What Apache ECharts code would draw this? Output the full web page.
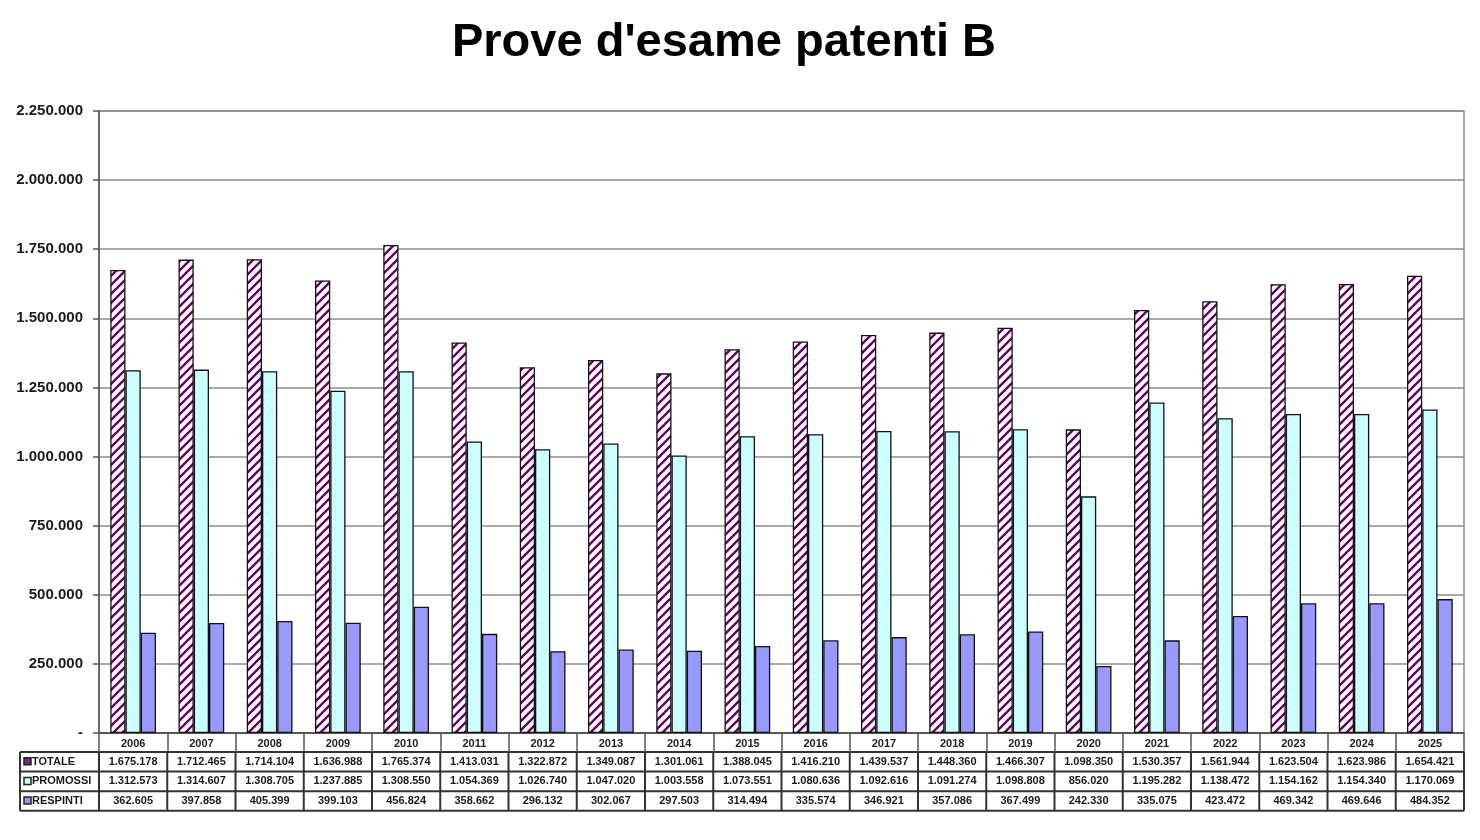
<!DOCTYPE html>
<html><head><meta charset="utf-8">
<script src="https://cdn.jsdelivr.net/npm/echarts@6/dist/echarts.min.js"></script>
<style>html,body{margin:0;padding:0;background:#fff;}#c{width:1480px;height:840px;}</style>
</head><body><div id="c"></div>
<script>
const titleText = "Prove d'esame patenti B";
const years = ['2006','2007','2008','2009','2010','2011','2012','2013','2014','2015','2016','2017','2018','2019','2020','2021','2022','2023','2024','2025'];
const seriesNames = ['TOTALE','PROMOSSI','RESPINTI'];
const totale = [1675178,1712465,1714104,1636988,1765374,1413031,1322872,1349087,1301061,1388045,1416210,1439537,1448360,1466307,1098350,1530357,1561944,1623504,1623986,1654421];
const promossi = [1312573,1314607,1308705,1237885,1308550,1054369,1026740,1047020,1003558,1073551,1080636,1092616,1091274,1098808,856020,1195282,1138472,1154162,1154340,1170069];
const respinti = [362605,397858,405399,399103,456824,358662,296132,302067,297503,314494,335574,346921,357086,367499,242330,335075,423472,469342,469646,484352];
const yMin = 0, yMax = 2250000, yStep = 250000;

const FONT = '"Liberation Sans", Arial, sans-serif';
function fmt(v){ return v === 0 ? '-' : String(v).replace(/\B(?=(\d{3})+(?!\d))/g, '.'); }

function hatch(){
  const s = 9;
  const c = document.createElement('canvas'); c.width = s; c.height = s;
  const g = c.getContext('2d');
  g.fillStyle = '#ffffff'; g.fillRect(0,0,s,s);
  g.strokeStyle = '#660066'; g.lineWidth = 2.4;
  g.beginPath();
  g.moveTo(-2, s+2); g.lineTo(s+2, -2);
  g.moveTo(-2, 2); g.lineTo(2, -2);
  g.moveTo(s-2, s+2); g.lineTo(s+2, s-2);
  g.stroke();
  return c;
}
const fills = [{image: hatch(), repeat: 'repeat'}, '#CCFFFF', '#9999FF'];
const keyFills = ['#7a2a7a', '#CCFFFF', '#9999FF'];
const values = [totale, promossi, respinti];

const chart = echarts.init(document.getElementById('c'), null, {renderer: 'canvas'});
const option = {
  animation: false,
  backgroundColor: '#fff',
  grid: {left: 99, right: 16, top: 111, bottom: 107, show: true, borderColor: '#8c8c8c', borderWidth: 1.5},
  xAxis: {
    type: 'category', data: years,
    axisLine: {lineStyle: {color: '#444', width: 1.5}},
    axisTick: {show: true, interval: 0, length: 19, lineStyle: {color: '#555', width: 1.5}},
    axisLabel: {interval: 0, margin: 5, fontFamily: FONT, fontWeight: 'bold', fontSize: 11, color: '#222'}
  },
  yAxis: {
    type: 'value', min: yMin, max: yMax, interval: yStep,
    axisLine: {show: true, lineStyle: {color: '#555', width: 1.5}},
    axisTick: {show: true, length: 6, lineStyle: {color: '#555', width: 1.5}},
    axisLabel: {margin: 16, fontFamily: FONT, fontWeight: 'bold', fontSize: 15, color: '#1a1a1a', formatter: fmt},
    splitLine: {lineStyle: {color: '#8c8c8c', width: 1.5}}
  },
  series: values.map((d, i) => ({
    name: seriesNames[i], type: 'bar', data: d,
    barGap: '0%', barCategoryGap: '33%',
    itemStyle: {color: fills[i], borderColor: '#111', borderWidth: 1.3}
  }))
};
chart.setOption(option);

// Build title and data table
const x0 = chart.convertToPixel({xAxisIndex: 0}, 0);
const x1 = chart.convertToPixel({xAxisIndex: 0}, 1);
const colW = x1 - x0;
const axisY = chart.convertToPixel({yAxisIndex: 0}, 0);
const tTop = axisY + 19;
const rowH = 19.6;
const tLeft = 20;
const firstB = x0 - colW/2;
const lastB = chart.convertToPixel({xAxisIndex: 0}, years.length - 1) + colW/2;
const g = [];
g.push({type: 'text', style: {x: 724, y: 43, text: titleText, font: 'bold 47px ' + FONT, fill: '#000', align: 'center', verticalAlign: 'middle'}});
const ls = {stroke: '#333', lineWidth: 2};
for (let r = 0; r <= 3; r++) {
  g.push({type: 'line', shape: {x1: tLeft, y1: tTop + r*rowH, x2: lastB, y2: tTop + r*rowH}, style: ls});
}
g.push({type: 'line', shape: {x1: tLeft, y1: tTop, x2: tLeft, y2: tTop + 3*rowH}, style: ls});
for (let i = 0; i <= years.length; i++) {
  const bx = firstB + i*colW;
  g.push({type: 'line', shape: {x1: bx, y1: tTop, x2: bx, y2: tTop + 3*rowH}, style: ls});
}
for (let r = 0; r < 3; r++) {
  const cy = tTop + r*rowH + rowH/2;
  g.push({type: 'rect', shape: {x: 24, y: cy - 4, width: 7, height: 7}, style: {fill: keyFills[r], stroke: '#222', lineWidth: 1.5}});
  g.push({type: 'text', style: {x: 32, y: cy, text: seriesNames[r], font: 'bold 11px ' + FONT, fill: '#1a1a1a', align: 'left', verticalAlign: 'middle'}});
  for (let i = 0; i < years.length; i++) {
    const cx = chart.convertToPixel({xAxisIndex: 0}, i);
    g.push({type: 'text', style: {x: cx, y: cy, text: fmt(values[r][i]), font: 'bold 11px ' + FONT, fill: '#1a1a1a', align: 'center', verticalAlign: 'middle'}});
  }
}
chart.setOption({graphic: {elements: g}});
</script>
</body></html>
